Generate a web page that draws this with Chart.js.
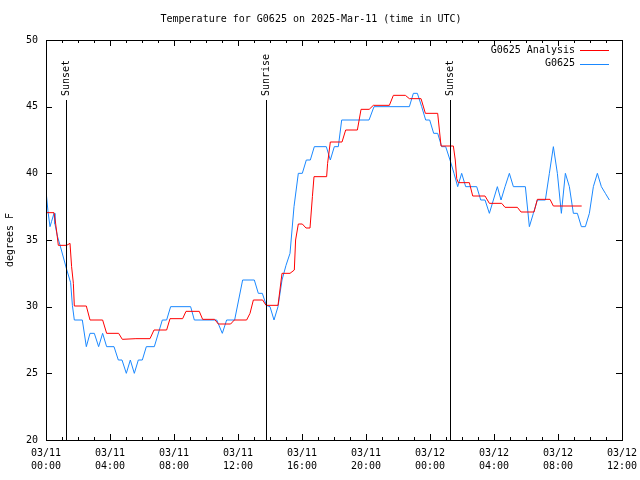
<!DOCTYPE html>
<html>
<head>
<meta charset="utf-8">
<script src="https://cdn.jsdelivr.net/npm/chart.js@4/dist/chart.umd.min.js"></script>
<style>
  html, body { margin: 0; padding: 0; background: #fff; }
  #wrap { width: 640px; height: 480px; }
</style>
</head>
<body>
<div id="wrap"><canvas id="tempChart" width="640" height="480"></canvas></div>
<script>
// time is hours since 2025-03-11 00:00 UTC, temps in degrees F
const obsTimes = [0.0, 0.12, 0.25, 0.35, 0.5, 0.56, 0.71, 0.88, 1.29, 1.54, 1.65, 1.77, 2.27, 2.52, 2.75, 3.02,
  3.29, 3.54, 3.79, 4.25, 4.52, 4.75, 5.02, 5.27, 5.52, 5.77, 6.02, 6.27, 6.77, 7.27, 7.54, 7.79,
  9.04, 9.27, 10.67, 11.02, 11.29, 11.79, 12.29, 13.02, 13.27, 13.52, 13.77, 14.0, 14.25, 14.5,
  14.75, 15.0, 15.25, 15.5, 15.77, 16.02, 16.27, 16.52, 16.77, 17.52, 17.77, 18.02, 18.27, 18.48,
  20.19, 20.5, 22.71, 22.96, 23.21, 23.48, 23.73, 23.98, 24.23, 24.48, 24.73, 24.98, 25.25, 25.5,
  25.73, 25.98, 26.23, 26.92, 27.17, 27.44, 27.71, 27.96, 28.21, 28.44, 28.69, 28.96, 29.21, 29.96,
  30.21, 30.46, 30.71, 31.21, 31.46, 31.71, 31.96, 32.21, 32.46, 32.71, 32.96, 33.21, 33.46, 33.71,
  33.96, 34.21, 34.46, 34.71, 34.96, 35.21];
const obsTemps = [38.7, 37.2, 36.0, 36.4, 37.0, 36.2, 35.3, 34.6, 32.8, 31.8, 30.1, 29.0, 29.0, 27.0, 28.0, 28.0,
  27.0, 28.0, 27.0, 27.0, 26.0, 26.0, 25.0, 26.0, 25.0, 26.0, 26.0, 27.0, 27.0, 29.0, 29.0, 30.0,
  30.0, 29.0, 29.0, 28.0, 29.0, 29.0, 32.0, 32.0, 31.0, 31.0, 30.1, 30.0, 29.0, 30.0,
  32.0, 33.1, 34.0, 37.5, 40.0, 40.0, 41.0, 41.0, 42.0, 42.0, 41.0, 42.0, 42.0, 44.0,
  44.0, 45.0, 45.0, 46.0, 46.0, 45.0, 44.0, 44.0, 43.0, 43.0, 42.0, 42.0, 41.0, 40.0,
  39.0, 40.0, 39.0, 39.0, 38.0, 38.0, 37.0, 38.0, 39.0, 38.0, 39.0, 40.0, 39.0, 39.0,
  36.0, 37.0, 38.0, 38.0, 40.0, 42.0, 40.0, 37.0, 40.0, 39.0, 37.0, 37.0, 36.0, 36.0,
  37.0, 39.0, 40.0, 39.0, 38.5, 38.0];

const anaTimes = [0.0, 0.5, 0.6, 0.67, 0.77, 1.29, 1.5, 1.6, 1.71, 1.77, 2.52, 2.75, 3.54, 3.79, 4.54, 4.77,
  5.62, 6.5, 6.75, 7.54, 7.75, 8.54, 8.75, 9.58, 9.79, 10.54, 10.77, 11.54, 11.77, 12.54, 12.75, 12.96,
  13.54, 13.75, 14.5, 14.75, 15.25, 15.52, 15.6, 15.77, 16.02, 16.25, 16.5, 16.65, 16.75, 17.54, 17.6,
  17.77, 18.5, 18.73, 19.46, 19.69, 20.2, 20.46, 21.46, 21.71, 22.46, 22.71, 23.44, 23.71, 24.48,
  24.69, 25.46, 25.58, 25.67, 25.77, 26.46, 26.67, 27.44, 27.71, 28.48, 28.69, 29.46, 29.69, 30.5,
  30.71, 31.5, 31.71, 33.48];
const anaTemps = [37.05, 37.05, 36.25, 35.6, 34.6, 34.6, 34.75, 33.0, 31.75, 30.05, 30.05, 29.0, 29.0, 28.0, 28.0, 27.55,
  27.6, 27.6, 28.25, 28.25, 29.1, 29.1, 29.65, 29.65, 29.05, 29.05, 28.7, 28.7, 29.0, 29.0, 29.5, 30.5,
  30.5, 30.1, 30.1, 32.5, 32.5, 32.75, 35.0, 36.2, 36.2, 35.9, 35.9, 38.25, 39.75, 39.75, 40.75,
  42.35, 42.35, 43.25, 43.25, 44.8, 44.8, 45.1, 45.1, 45.85, 45.85, 45.6, 45.6, 44.5, 44.5,
  42.05, 42.05, 41.0, 39.6, 39.3, 39.3, 38.3, 38.3, 37.75, 37.75, 37.45, 37.45, 37.1, 37.1,
  38.05, 38.05, 37.55, 37.55];

const tickDates = ['03/11', '03/11', '03/11', '03/11', '03/11', '03/11', '03/12', '03/12', '03/12', '03/12'];
const tickHours = ['00:00', '04:00', '08:00', '12:00', '16:00', '20:00', '00:00', '04:00', '08:00', '12:00'];

const eventTimes = [1.25, 13.75, 25.25];
const eventNames = ['Sunset', 'Sunrise', 'Sunset'];

const seriesNames = ['G0625 Analysis', 'G0625'];
const seriesColors = ['#ff0000', '#1a88ff'];

const FONT = 'DejaVu Sans Mono, Liberation Mono, monospace';

function pairs(xs, ys) {
  return xs.map((x, i) => ({ x: x, y: ys[i] }));
}

// gnuplot-ish frame: border + inward ticks on all four sides, minor x ticks every hour
const frameTicks = {
  id: 'frameTicks',
  afterDatasetsDraw(chart) {
    const { ctx, chartArea: a, scales } = chart;
    ctx.save();
    ctx.strokeStyle = '#000';
    ctx.lineWidth = 1;
    ctx.beginPath();
    for (let h = 0; h <= 36; h++) {
      const x = Math.round(scales.x.getPixelForValue(h)) + 0.5;
      const len = h % 4 === 0 ? 6 : 3;
      ctx.moveTo(x, a.bottom); ctx.lineTo(x, a.bottom - len);
      ctx.moveTo(x, a.top); ctx.lineTo(x, a.top + len);
    }
    scales.y.ticks.forEach(t => {
      const y = Math.round(scales.y.getPixelForValue(t.value)) + 0.5;
      ctx.moveTo(a.left, y); ctx.lineTo(a.left + 6, y);
      ctx.moveTo(a.right, y); ctx.lineTo(a.right - 6, y);
    });
    ctx.stroke();
    ctx.strokeRect(Math.round(a.left) + 0.5, Math.round(a.top) + 0.5,
      Math.round(a.right - a.left), Math.round(a.bottom - a.top));
    ctx.restore();
  }
};

// sunrise / sunset markers with rotated labels
const eventLines = {
  id: 'eventLines',
  afterDatasetsDraw(chart) {
    const { ctx, chartArea: a, scales } = chart;
    ctx.save();
    ctx.strokeStyle = '#000';
    ctx.fillStyle = '#000';
    ctx.lineWidth = 1;
    ctx.font = '10px ' + FONT;
    eventTimes.forEach((t, i) => {
      const x = Math.round(scales.x.getPixelForValue(t)) + 0.5;
      ctx.beginPath();
      ctx.moveTo(x, a.top + 60);
      ctx.lineTo(x, a.bottom);
      ctx.stroke();
      ctx.save();
      ctx.translate(x, a.top + 56);
      ctx.rotate(-Math.PI / 2);
      ctx.textAlign = 'left';
      ctx.textBaseline = 'middle';
      ctx.fillText(eventNames[i], 0, 0);
      ctx.restore();
    });
    ctx.restore();
  }
};

// key in the top right corner
const keyBox = {
  id: 'keyBox',
  afterDraw(chart) {
    const { ctx, chartArea: a } = chart;
    ctx.save();
    ctx.font = '10px ' + FONT;
    ctx.textAlign = 'right';
    ctx.textBaseline = 'middle';
    ctx.lineWidth = 1;
    seriesNames.forEach((name, i) => {
      const y = a.top + 10 + i * 13.5;
      ctx.fillStyle = '#000';
      ctx.fillText(name, a.right - 47, y);
      ctx.strokeStyle = seriesColors[i];
      ctx.beginPath();
      ctx.moveTo(a.right - 42, Math.round(y) + 0.5);
      ctx.lineTo(a.right - 13, Math.round(y) + 0.5);
      ctx.stroke();
    });
    ctx.restore();
  }
};

new Chart(document.getElementById('tempChart'), {
  type: 'line',
  data: {
    datasets: [
      {
        label: seriesNames[0],
        data: pairs(anaTimes, anaTemps),
        borderColor: seriesColors[0],
        borderWidth: 1,
        pointRadius: 0,
        tension: 0
      },
      {
        label: seriesNames[1],
        data: pairs(obsTimes, obsTemps),
        borderColor: seriesColors[1],
        borderWidth: 1,
        pointRadius: 0,
        tension: 0
      }
    ]
  },
  options: {
    responsive: false,
    animation: false,
    layout: { padding: { left: 0, right: 18, top: 0, bottom: 0 } },
    plugins: {
      legend: { display: false },
      tooltip: { enabled: false },
      title: {
        display: true,
        text: 'Temperature for G0625 on 2025-Mar-11 (time in UTC)',
        color: '#000',
        font: { family: FONT, size: 10, weight: 'normal', lineHeight: 1.2 },
        padding: { top: 13, bottom: 15 }
      }
    },
    scales: {
      x: {
        type: 'linear',
        min: 0,
        max: 36,
        grid: { display: false, drawTicks: false },
        border: { display: false },
        ticks: {
          stepSize: 4,
          autoSkip: false,
          maxRotation: 0,
          padding: 7,
          color: '#000',
          font: { family: FONT, size: 10, lineHeight: 1.3 },
          callback: v => [tickDates[v / 4], tickHours[v / 4]]
        },
        afterFit: s => { s.height = 40; s.paddingLeft = 0; s.paddingRight = 0; }
      },
      y: {
        min: 20,
        max: 50,
        grid: { display: false, drawTicks: false },
        border: { display: false },
        ticks: {
          stepSize: 5,
          padding: 8,
          color: '#000',
          font: { family: FONT, size: 10 }
        },
        title: {
          display: true,
          text: 'degrees F',
          color: '#000',
          font: { family: FONT, size: 10 },
          padding: { top: 4, bottom: 0 }
        },
        afterFit: s => { s.width = 46; }
      }
    }
  },
  plugins: [frameTicks, eventLines, keyBox]
});
</script>
</body>
</html>
